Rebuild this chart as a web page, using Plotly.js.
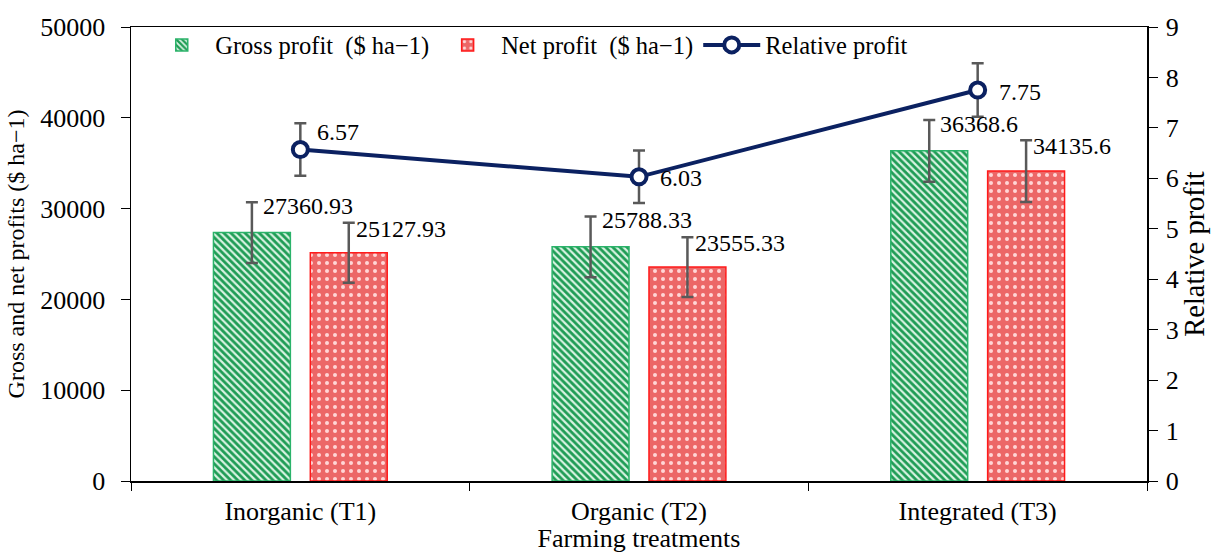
<!DOCTYPE html>
<html>
<head>
<meta charset="utf-8">
<script src="https://cdn.plot.ly/plotly-3.0.1.min.js"></script>
<style>html,body{margin:0;padding:0;background:#fff;}#chart{width:1212px;height:553px;}</style>
</head>
<body>
<div id="chart"></div>
<script>
const categories = ["Inorganic (T1)", "Organic (T2)", "Integrated (T3)"];
const grossProfit = [27360.93, 25788.33, 36368.6];
const netProfit = [25127.93, 23555.33, 34135.6];
const relativeProfit = [6.57, 6.03, 7.75];
const grossErr = [3350, 3350, 3400];
const netErr = [3300, 3300, 3400];
const relErr = [0.52, 0.52, 0.53];
const grossLabels = ["27360.93", "25788.33", "36368.6"];
const netLabels = ["25127.93", "23555.33", "34135.6"];
const relLabels = ["6.57", "6.03", "7.75"];

const FONT = "Liberation Serif, Times New Roman, serif";
const errStyle = {type: 'data', visible: true, color: '#595959', thickness: 2.5, width: 6};

const traces = [
  {
    type: 'bar', name: 'Gross profit\u00a0\u00a0($ ha\u22121)', x: categories, y: grossProfit,
    error_y: Object.assign({array: grossErr}, errStyle),
    marker: {color: '#d8f3e2', line: {color: '#2bb36a', width: 1.5},
      pattern: {shape: '\\', fgcolor: '#1f9c55', bgcolor: '#d8f3e2', size: 5, solidity: 0.55, fillmode: 'replace'}},
    hoverinfo: 'skip'
  },
  {
    type: 'bar', name: 'Net profit\u00a0\u00a0($ ha\u22121)', x: categories, y: netProfit,
    error_y: Object.assign({array: netErr}, errStyle),
    marker: {color: '#ec6767', line: {color: '#ff1a1a', width: 1.5},
      pattern: {shape: '.', fgcolor: '#ffd6d6', bgcolor: '#ec6767', size: 8, solidity: 0.2, fillmode: 'replace'}},
    hoverinfo: 'skip'
  },
  {
    type: 'scatter', mode: 'lines+markers', name: 'Relative profit', x: categories, y: relativeProfit, yaxis: 'y2',
    error_y: Object.assign({array: relErr}, errStyle),
    line: {color: '#0b2161', width: 4},
    marker: {symbol: 'circle', size: 15, color: '#ffffff', line: {color: '#0b2161', width: 4}},
    hoverinfo: 'skip'
  }
];

const annotations = [];
const barOffset = 48.5;
categories.forEach((c, i) => {
  annotations.push({x: c, y: grossProfit[i] + grossErr[i], xref: 'x', yref: 'y', text: grossLabels[i],
    showarrow: false, xanchor: 'left', yanchor: 'middle', xshift: -barOffset + 9, yshift: -4,
    font: {family: FONT, size: 24, color: '#000'}});
  annotations.push({x: c, y: netProfit[i] + netErr[i], xref: 'x', yref: 'y', text: netLabels[i],
    showarrow: false, xanchor: 'left', yanchor: 'middle', xshift: barOffset + 5, yshift: -6,
    font: {family: FONT, size: 24, color: '#000'}});
});
const relShift = [[15, 18], [19, -1], [19, -2]];
categories.forEach((c, i) => {
  annotations.push({x: c, y: relativeProfit[i], xref: 'x', yref: 'y2', text: relLabels[i],
    showarrow: false, xanchor: 'left', yanchor: 'middle', xshift: relShift[i][0], yshift: relShift[i][1],
    font: {family: FONT, size: 24, color: '#000'}});
});

const layout = {
  width: 1212, height: 553,
  margin: {l: 131, r: 65, t: 27, b: 72},
  paper_bgcolor: '#fff', plot_bgcolor: '#fff',
  font: {family: FONT, size: 26, color: '#000'},
  barmode: 'group', bargap: 0.428, bargroupgap: 0.206,
  showlegend: true,
  legend: {orientation: 'h', x: 0.017, y: 1.01, xanchor: 'left', yanchor: 'top',
    font: {family: FONT, size: 24.5, color: '#000'}, bgcolor: 'rgba(0,0,0,0)', itemwidth: 57, tracegroupgap: 0},
  xaxis: {
    type: 'category', showline: true, linecolor: '#000', linewidth: 1.5, mirror: true,
    ticks: 'outside', tickson: 'boundaries', ticklen: 8, tickcolor: '#000', tickwidth: 1,
    showgrid: false, zeroline: false, tickfont: {family: FONT, size: 26}, ticklabelstandoff: 6,
    title: {text: 'Farming treatments', font: {family: FONT, size: 26}, standoff: 2}
  },
  yaxis: {
    range: [0, 50000], dtick: 10000, tickformat: 'd', showline: true, linecolor: '#000', linewidth: 1.5,
    ticks: 'outside', ticklen: 9, tickcolor: '#000', showgrid: false, zeroline: false,
    tickfont: {family: FONT, size: 26}, ticklabelstandoff: 10,
    title: {text: 'Gross and net profits ($ ha\u22121)', font: {family: FONT, size: 24}, standoff: 9}
  },
  yaxis2: {
    range: [0, 9], dtick: 1, overlaying: 'y', side: 'right', showline: true, linecolor: '#000', linewidth: 1.5,
    ticks: 'outside', ticklen: 9, tickcolor: '#000', showgrid: false, zeroline: false,
    tickfont: {family: FONT, size: 26}, ticklabelstandoff: 3,
    title: {text: 'Relative profit', font: {family: FONT, size: 28.5}, standoff: 1}
  },
  annotations: annotations
};

Plotly.newPlot('chart', traces, layout, {displayModeBar: false, staticPlot: true});
</script>
</body>
</html>
